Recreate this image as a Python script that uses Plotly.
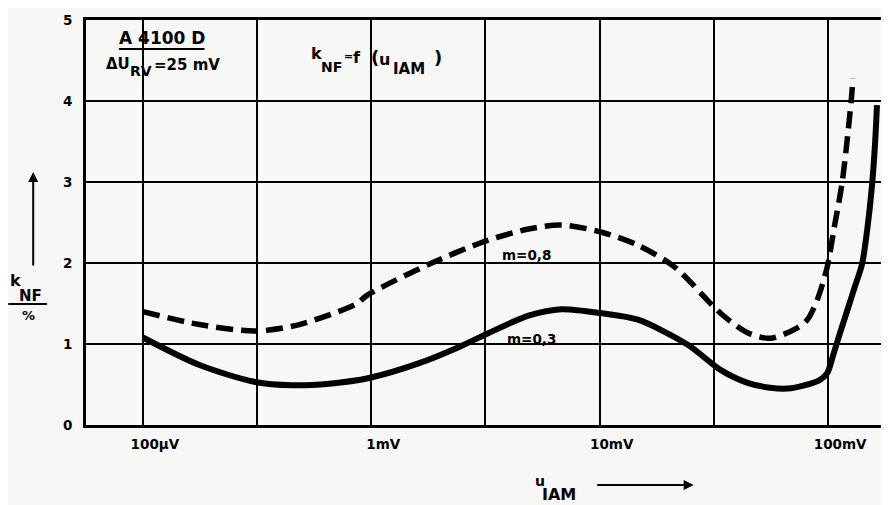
import plotly.graph_objects as go

# ---- data (u_IAM in mV, k_NF in %) ----
u_m03 = [0.100, 0.177, 0.311, 0.451, 0.655, 0.977, 1.61, 2.41, 3.23, 4.88, 6.79, 10.2,
         14.7, 24.3, 33.8, 44.4, 55.8, 66.4, 78.7, 91.4, 99.1, 105.2, 112.9, 121.2,
         130.0, 140.9, 148.3, 155.6, 160.4, 163.7]
k_m03 = [1.08, 0.74, 0.53, 0.49, 0.51, 0.58, 0.76, 0.96, 1.13, 1.35, 1.43, 1.38,
         1.30, 0.99, 0.68, 0.52, 0.46, 0.45, 0.49, 0.55, 0.64, 0.86, 1.14, 1.41,
         1.68, 1.99, 2.41, 2.95, 3.46, 3.95]

u_m08 = [0.100, 0.177, 0.311, 0.484, 0.867, 0.957, 1.84, 3.23, 4.88, 6.79, 10.2, 14.7,
         21.3, 33.8, 44.4, 55.8, 73.3, 81.1, 89.5, 99.1, 106.4, 115.3, 126.2, 128.5]
k_m08 = [1.40, 1.24, 1.16, 1.24, 1.50, 1.60, 2.00, 2.28, 2.42, 2.47, 2.38, 2.22,
         1.95, 1.38, 1.14, 1.07, 1.20, 1.30, 1.54, 1.95, 2.44, 3.00, 4.00, 4.28]

x_tickvals = [0.1, 0.3162, 1, 3.162, 10, 31.62, 100]
x_ticktext = ["100\u00b5V", "", "1mV", "", "10mV", "", "100mV"]
y_tickvals = [0, 1, 2, 3, 4, 5]

FONT = "DejaVu Sans"
BG = "#f7f7f5"

# the page has an 8 px body margin: figure is drawn from (8, 8)
OFF = 8
W, H = 889 - OFF, 505 - OFF
# plot area in page pixels
L, R, T, B = 86, 885, 20, 425


def P(px, py):
    return (px - L) / (R - L), (B - py) / (B - T)


fig = go.Figure()
fig.add_trace(go.Scatter(x=u_m08, y=k_m08, mode="lines",
                         line=dict(color="black", width=5.5, dash="17px,8px",
                                   shape="spline", smoothing=0.8),
                         hoverinfo="skip", showlegend=False))
fig.add_trace(go.Scatter(x=u_m03, y=k_m03, mode="lines",
                         line=dict(color="black", width=6,
                                   shape="spline", smoothing=0.8),
                         hoverinfo="skip", showlegend=False))

ann = []


def text(px, py, s, size=14, xanchor="center"):
    x, y = P(px, py)
    ann.append(dict(x=x, y=y, xref="paper", yref="paper", text=s, showarrow=False,
                    xanchor=xanchor, yanchor="middle", borderpad=0,
                    font=dict(family=FONT, size=size, color="black", weight="bold")))


# header box
text(162, 38, "A 4100 D", size=17)
text(105, 64, "\u0394U", size=15, xanchor="left")
text(129, 71, "RV", size=14, xanchor="left")
text(153, 65, "=25 mV", size=15, xanchor="left")
# formula
text(311, 54, "k", size=16, xanchor="left")
text(321, 67, "NF", size=14, xanchor="left")
text(344, 56, "=", size=11, xanchor="left")
text(353, 58, "f", size=16, xanchor="left")
text(371, 58, "(", size=18, xanchor="left")
text(379, 59, "u", size=16, xanchor="left")
text(393, 69, "IAM", size=15, xanchor="left")
text(434, 58, ")", size=18, xanchor="left")
# curve labels
text(528, 255, "m=0,8", size=13.5)
text(533, 339, "m=0,3", size=13.5)
# y title
text(9, 280, "k", size=16, xanchor="left")
text(18, 296, "NF", size=15, xanchor="left")
text(28, 315, "%", size=13)
# x title
text(536, 481, "u", size=14, xanchor="left")
text(543, 495, "IAM", size=16, xanchor="left")

# arrows
hx, hy = P(33, 172)
ann.append(dict(x=hx, y=hy, xref="paper", yref="paper", ax=0, ay=95,
                axref="pixel", ayref="pixel", text="", showarrow=True,
                arrowhead=2, arrowsize=1, arrowwidth=2, arrowcolor="black"))
hx, hy = P(696, 485)
ann.append(dict(x=hx, y=hy, xref="paper", yref="paper", ax=-98, ay=0,
                axref="pixel", ayref="pixel", text="", showarrow=True,
                arrowhead=2, arrowsize=1, arrowwidth=2, arrowcolor="black"))

shapes = []
# underline of the type label
x0, y0 = P(119, 49)
x1, _ = P(205, 49)
shapes.append(dict(type="line", xref="paper", yref="paper", x0=x0, x1=x1, y0=y0, y1=y0,
                   line=dict(color="black", width=2)))
# fraction bar of the y title
x0, y0 = P(8, 304)
x1, _ = P(47, 304)
shapes.append(dict(type="line", xref="paper", yref="paper", x0=x0, x1=x1, y0=y0, y1=y0,
                   line=dict(color="black", width=2)))
# blank the grid where the header box / formula sit
x0, y0 = P(138, 99)
x1, y1 = P(148, 22)
shapes.append(dict(type="rect", xref="paper", yref="paper", x0=x0, x1=x1, y0=y0, y1=y1,
                   fillcolor=BG, line=dict(width=0), layer="between"))
x0, y0 = P(365, 87)
x1, y1 = P(375, 32)
shapes.append(dict(type="rect", xref="paper", yref="paper", x0=x0, x1=x1, y0=y0, y1=y1,
                   fillcolor=BG, line=dict(width=0), layer="between"))

fig.update_layout(
    width=W, height=H,
    margin=dict(l=L - OFF, r=889 - R, t=T - OFF, b=505 - B),
    paper_bgcolor=BG, plot_bgcolor=BG,
    annotations=ann, shapes=shapes,
    font=dict(family=FONT, size=14, color="black", weight="bold"),
)
fig.update_xaxes(type="log", range=[-1.249, 2.236], tickvals=x_tickvals, ticktext=x_ticktext,
                 showgrid=True, gridcolor="black", gridwidth=2,
                 showline=True, mirror=True, linecolor="black", linewidth=3,
                 ticks="", ticklabelstandoff=5, ticklabelshift=12,
                 tickfont=dict(family=FONT, size=13.5, color="black", weight="bold"),
                 zeroline=False)
fig.update_yaxes(range=[0, 5], tickvals=y_tickvals,
                 showgrid=True, gridcolor="black", gridwidth=2,
                 showline=True, mirror=True, linecolor="black", linewidth=3,
                 ticks="", ticklabelstandoff=8,
                 tickfont=dict(family=FONT, size=13.5, color="black", weight="bold"),
                 zeroline=False)

fig.write_html("out.html")
